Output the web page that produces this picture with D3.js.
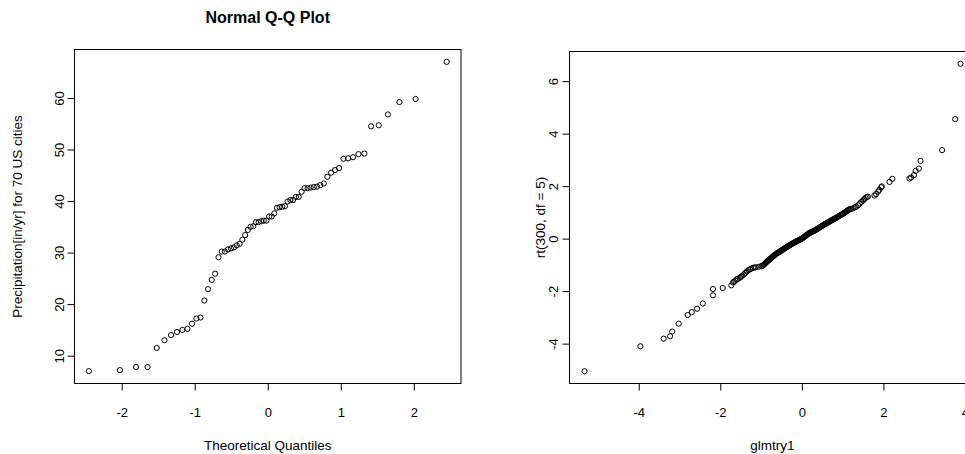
<!DOCTYPE html>
<html>
<head>
<meta charset="utf-8">
<script src="https://d3js.org/d3.v7.min.js"></script>
<style>
body { margin: 0; background: #fff; }
svg text { font-family: "Liberation Sans", Arial, sans-serif; fill: #000; }
</style>
</head>
<body>
<div id="chart"></div>
<script>
// left panel: qqnorm(precip)
var precipQuantiles = [
	-2.4500, -2.0251, -1.8028, -1.6449, -1.5198, -1.4148, -1.3234, -1.2419, -1.1679, -1.0998,
	-1.0364, -0.9770, -0.9208, -0.8674, -0.8164, -0.7674, -0.7202, -0.6745, -0.6302, -0.5871,
	-0.5451, -0.5040, -0.4637, -0.4242, -0.3853, -0.3470, -0.3092, -0.2719, -0.2349, -0.1982,
	-0.1618, -0.1257, -0.0896, -0.0537, -0.0179, 0.0179, 0.0537, 0.0896, 0.1257, 0.1618,
	0.1982, 0.2349, 0.2719, 0.3092, 0.3470, 0.3853, 0.4242, 0.4637, 0.5040, 0.5451,
	0.5871, 0.6302, 0.6745, 0.7202, 0.7674, 0.8164, 0.8674, 0.9208, 0.9770, 1.0364,
	1.0998, 1.1679, 1.2419, 1.3234, 1.4148, 1.5198, 1.6449, 1.8028, 2.0251, 2.4500
];
var precipValues = [
	7.0, 7.2, 7.8, 7.8, 11.5, 13.0, 14.0, 14.6, 15.0, 15.2,
	16.2, 17.2, 17.4, 20.7, 22.9, 24.7, 25.9, 29.1, 30.2, 30.2,
	30.6, 30.8, 31.0, 31.4, 31.7, 32.5, 33.4, 34.4, 35.0, 35.1,
	35.9, 35.9, 36.1, 36.2, 36.2, 37.0, 37.0, 37.6, 38.7, 38.8,
	38.9, 39.0, 39.9, 40.2, 40.2, 40.8, 40.8, 41.8, 42.5, 42.5,
	42.6, 42.7, 42.8, 43.1, 43.4, 44.7, 45.5, 46.0, 46.4, 48.2,
	48.3, 48.5, 49.1, 49.2, 54.5, 54.7, 56.8, 59.2, 59.8, 67.0
];
var precipTicksX = [-2, -1, 0, 1, 2];
var precipTicksY = [10, 20, 30, 40, 50, 60];

// right panel: qqplot(glmtry1, rt(300, df = 5))
var glmtryValues = [
	-5.33, -3.96, -3.39, -3.23, -3.18, -3.02, -2.80, -2.70, -2.57, -2.43,
	-2.18, -2.18, -1.94, -1.73, -1.69,
	-1.66, -1.63, -1.60, -1.57, -1.52, -1.49, -1.46, -1.42, -1.38, -1.35,
	-1.31, -1.27, -1.24, -1.20, -1.16, -1.13,
	-1.05, -0.99, -0.97, -0.95,
	-0.93, -0.91, -0.89, -0.87, -0.85, -0.83, -0.81, -0.79, -0.77, -0.75,
	-0.73, -0.71, -0.69, -0.67, -0.65, -0.63, -0.61, -0.59, -0.57, -0.55,
	-0.53, -0.51, -0.49, -0.47, -0.45, -0.43, -0.41, -0.39, -0.37, -0.35,
	-0.33, -0.31, -0.29, -0.27, -0.25, -0.23, -0.21, -0.19, -0.17, -0.15,
	-0.13, -0.11, -0.09, -0.07, -0.05, -0.03, -0.01, 0.01, 0.03, 0.05,
	0.07, 0.09, 0.11, 0.13, 0.15, 0.17, 0.19, 0.21, 0.23, 0.25,
	0.27, 0.29, 0.31, 0.33, 0.35, 0.37, 0.39, 0.41, 0.43, 0.45,
	0.47, 0.49, 0.51, 0.53, 0.55, 0.57, 0.59, 0.61, 0.63, 0.65,
	0.67, 0.69, 0.71, 0.73, 0.75, 0.77, 0.79, 0.81, 0.83, 0.85,
	0.87, 0.89, 0.91, 0.93, 0.95, 0.97, 0.99, 1.01, 1.03, 1.05,
	1.07, 1.09, 1.11, 1.13, 1.15, 1.17,
	1.20, 1.25, 1.30, 1.33, 1.38, 1.42, 1.46, 1.50, 1.53, 1.56,
	1.59, 1.62, 1.78, 1.82, 1.87, 1.90, 1.95, 1.96, 2.15, 2.22,
	2.64, 2.68, 2.75, 2.79, 2.87, 2.91, 3.44, 3.76, 3.89
];
var rtValues = [
	-5.05, -4.10, -3.81, -3.72, -3.54, -3.24, -2.91, -2.80, -2.67, -2.47,
	-2.16, -1.92, -1.88, -1.78, -1.67,
	-1.64, -1.60, -1.55, -1.53, -1.49, -1.45, -1.41, -1.36, -1.30, -1.25,
	-1.20, -1.17, -1.14, -1.11, -1.10, -1.09,
	-1.07, -1.05, -1.03, -1.02,
	-0.99, -0.96, -0.93, -0.90, -0.87, -0.84, -0.82, -0.79, -0.76, -0.74,
	-0.71, -0.68, -0.66, -0.63, -0.61, -0.58, -0.56, -0.54, -0.52, -0.50,
	-0.48, -0.46, -0.44, -0.42, -0.40, -0.38, -0.36, -0.34, -0.32, -0.30,
	-0.28, -0.26, -0.24, -0.22, -0.21, -0.19, -0.17, -0.15, -0.14, -0.12,
	-0.10, -0.09, -0.07, -0.06, -0.04, -0.02, -0.01, 0.01, 0.03, 0.06,
	0.08, 0.10, 0.13, 0.15, 0.17, 0.20, 0.22, 0.23, 0.25, 0.26,
	0.28, 0.29, 0.31, 0.32, 0.34, 0.36, 0.38, 0.40, 0.42, 0.44,
	0.46, 0.48, 0.50, 0.52, 0.54, 0.55, 0.57, 0.59, 0.61, 0.62,
	0.64, 0.66, 0.68, 0.70, 0.71, 0.73, 0.75, 0.77, 0.78, 0.80,
	0.82, 0.84, 0.86, 0.88, 0.90, 0.91, 0.93, 0.95, 0.97, 0.99,
	1.01, 1.04, 1.06, 1.08, 1.10, 1.12,
	1.13, 1.15, 1.19, 1.22, 1.27, 1.34, 1.40, 1.45, 1.50, 1.55,
	1.58, 1.60, 1.64, 1.70, 1.79, 1.86, 1.96, 1.99, 2.16, 2.28,
	2.29, 2.33, 2.42, 2.58, 2.67, 2.96, 3.37, 4.55, 6.66
];
var rtTicksX = [-4, -2, 0, 2, 4];
var rtTicksY = [-4, -2, 0, 2, 4, 6];

var width = 965, height = 454;

var svg = d3.select('#chart').append('svg')
	.attr('width', width)
	.attr('height', height);

// R style range: data extent widened by 4% each side
function padExtent(vals) {
	let ext = d3.extent(vals);
	let d = (ext[1] - ext[0]) * 0.04;
	return [ext[0] - d, ext[1] + d];
}

// plain hyphen minus like R, no forced decimals
var rLabel = d => String(d);

function drawQQ(cfg, xs, ys, ticksX, ticksY) {
	let box = cfg.box;
	let x = d3.scaleLinear().domain(padExtent(xs)).range([box.left, box.right]);
	let y = d3.scaleLinear().domain(padExtent(ys)).range([box.bottom, box.top]);
	let g = svg.append('g');

	g.append('rect')
		.attr('x', box.left)
		.attr('y', box.top)
		.attr('width', box.right - box.left)
		.attr('height', box.bottom - box.top)
		.attr('fill', 'none')
		.attr('stroke', '#000')
		.attr('stroke-width', 1);

	let ax = g.append('g')
		.attr('transform', 'translate(0,' + box.bottom + ')')
		.call(d3.axisBottom(x).tickValues(ticksX).tickFormat(rLabel)
			.tickSize(7).tickSizeOuter(0).tickPadding(cfg.xPad));
	ax.select('.domain').remove();
	ax.selectAll('text')
		.style('font-size', '13px')
		.style('font-family', '"Liberation Sans", Arial, sans-serif');

	let ay = g.append('g')
		.attr('transform', 'translate(' + box.left + ',0)')
		.call(d3.axisLeft(y).tickValues(ticksY).tickFormat(rLabel)
			.tickSize(7).tickSizeOuter(0));
	ay.select('.domain').remove();
	ay.selectAll('text')
		.attr('transform', 'rotate(-90)')
		.attr('x', 0)
		.attr('y', -cfg.yPad)
		.attr('dy', 0)
		.attr('text-anchor', 'middle')
		.style('font-size', '13px')
		.style('font-family', '"Liberation Sans", Arial, sans-serif');

	g.selectAll('circle')
		.data(d3.zip(xs, ys))
		.enter().append('circle')
		.attr('cx', d => x(d[0]))
		.attr('cy', d => y(d[1]))
		.attr('r', 2.6)
		.attr('fill', 'none')
		.attr('stroke', '#000')
		.attr('stroke-width', 1);

	let cx = (box.left + box.right) / 2;
	let cy = (box.top + box.bottom) / 2;
	g.append('text')
		.attr('x', cx)
		.attr('y', cfg.xlabY)
		.attr('text-anchor', 'middle')
		.style('font-size', '13.5px')
		.text(cfg.xlab);
	g.append('text')
		.attr('transform', 'translate(' + cfg.ylabX + ',' + cy + ') rotate(-90)')
		.attr('text-anchor', 'middle')
		.style('font-size', '13.5px')
		.text(cfg.ylab);
	if (cfg.title) {
		g.append('text')
			.attr('x', cx)
			.attr('y', cfg.titleY)
			.attr('text-anchor', 'middle')
			.style('font-size', '16px')
			.style('font-weight', 'bold')
			.text(cfg.title);
	}
}

drawQQ({
	box: {left: 74.5, right: 461, top: 49.5, bottom: 383.5},
	xPad: 17, yPad: 11,
	title: 'Normal Q-Q Plot', titleY: 23,
	xlab: 'Theoretical Quantiles', xlabY: 450,
	ylab: 'Precipitation[in/yr] for 70 US cities', ylabX: 22
}, precipQuantiles, precipValues, precipTicksX, precipTicksY);

drawQQ({
	box: {left: 569.5, right: 975.5, top: 51.5, bottom: 383.5},
	xPad: 17, yPad: 12,
	xlab: 'glmtry1', xlabY: 450,
	ylab: 'rt(300, df = 5)', ylabX: 545
}, glmtryValues, rtValues, rtTicksX, rtTicksY);
</script>
</body>
</html>
